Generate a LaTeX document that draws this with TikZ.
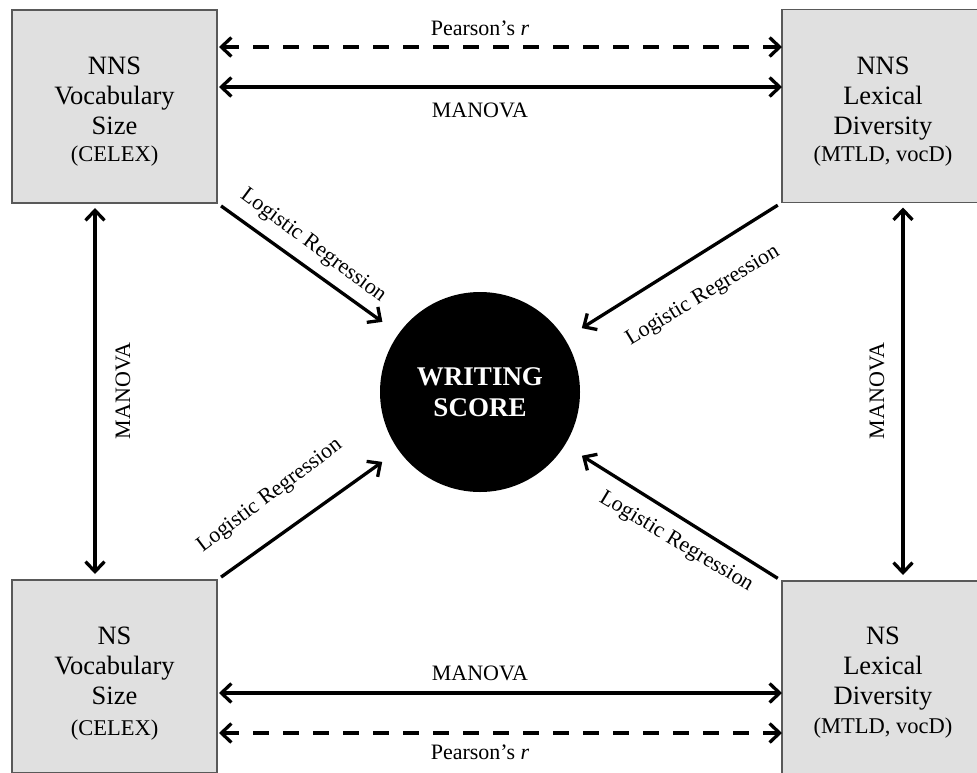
\documentclass[tikz,border=0pt]{standalone}
\usepackage{fontspec}
\setmainfont{Liberation Serif}
\usetikzlibrary{arrows.meta}
\begin{document}
\begin{tikzpicture}[x=1pt,y=-1pt,
  box/.style={draw=black!65, line width=1.8pt, fill=black!12, minimum width=205pt, minimum height=193pt, inner sep=0pt, outer sep=0pt},
  boxtext/.style={align=center, font=\fontsize{26.5}{30}\selectfont, inner sep=0pt},
  subtext/.style={font=\fontsize{22.5}{26}\selectfont},
  lab/.style={font=\fontsize{22}{26}\selectfont, inner sep=0pt},
  tip/.tip={Straight Barb[length=10pt,width=19pt]},
  link/.style={line width=3.3pt, tip-tip},
  oneway/.style={line width=3.3pt, -tip},
  dashlink/.style={link, dash pattern=on 16pt off 14pt},
]
\useasboundingbox (0,0) rectangle (977,772);
\begin{scope}
\clip (0,0) rectangle (977,772);
\node[box] (tl) at (114.5,106.5) {};
\node[box] (tr) at (884.5,106) {};
\node[box] (bl) at (114.5,676.5) {};
\node[box] (br) at (884.5,677.5) {};
\end{scope}

\node[boxtext] at (114.5,112) {NNS\\Vocabulary\\Size\\[-3pt]{\fontsize{22.5}{26}\selectfont (CELEX)}};
\node[boxtext] at (883,112) {NNS\\Lexical\\Diversity\\[-3pt]{\fontsize{22.5}{26}\selectfont (MTLD, vocD)}};
\node[boxtext] at (114.5,684) {NS\\Vocabulary\\Size\\[1pt]{\fontsize{22.5}{26}\selectfont (CELEX)}};
\node[boxtext] at (883,683) {NS\\Lexical\\Diversity\\[-1pt]{\fontsize{22.5}{26}\selectfont (MTLD, vocD)}};

\node[circle, fill=black, minimum size=200pt, inner sep=0pt, text=white, align=center,
      font=\bfseries\fontsize{27}{31}\selectfont] (ws) at (480,392) {WRITING\\SCORE};

% horizontal connectors
\coordinate (h1) at ([yshift=-37pt]tl.north east);
\coordinate (h2) at ([yshift=-77pt]tl.north east);
\coordinate (h3) at ([yshift=-113pt]bl.north east);
\coordinate (h4) at ([yshift=-153pt]bl.north east);
\draw[dashlink, shorten <=2pt] (h1) -- (h1 -| tr.west);
\draw[link, shorten <=2pt] (h2) -- (h2 -| tr.west);
\draw[link, shorten <=2pt] (h3) -- (h3 -| br.west);
\draw[dashlink, shorten <=2pt] (h4) -- (h4 -| br.west);

% vertical connectors
\coordinate (v1) at ([xshift=-122pt]tl.south east);
\coordinate (v2) at ([xshift=121pt]tr.south west);
\draw[link, shorten <=5pt, shorten >=6pt] (v1) -- (v1 |- bl.north);
\draw[link, shorten <=5pt, shorten >=6pt] (v2) -- (v2 |- br.north);

% diagonal connectors
\draw[oneway, shorten <=5pt, shorten >=20pt] (tl.south east) -- (ws);
\draw[oneway, shorten <=5pt, shorten >=20pt] (tr.south west) -- (ws);
\draw[oneway, shorten <=5pt, shorten >=20pt] (bl.north east) -- (ws);
\draw[oneway, shorten <=5pt, shorten >=20pt] (br.north west) -- (ws);

% labels
\node[lab] at (480,28) {Pearson’s \textit{r}};
\node[lab] at (480,110) {MANOVA};
\node[lab] at (480,673) {MANOVA};
\node[lab] at (480,752) {Pearson’s \textit{r}};
\node[lab, rotate=90] at (123,391) {MANOVA};
\node[lab, rotate=90] at (877,391) {MANOVA};
\node[lab, rotate=-36.6] at (313,246) {Logistic Regression};
\node[lab, rotate=31.2] at (703,296) {Logistic Regression};
\node[lab, rotate=37] at (270,496) {Logistic Regression};
\node[lab, rotate=-31] at (676,542) {Logistic Regression};
\end{tikzpicture}
\end{document}
